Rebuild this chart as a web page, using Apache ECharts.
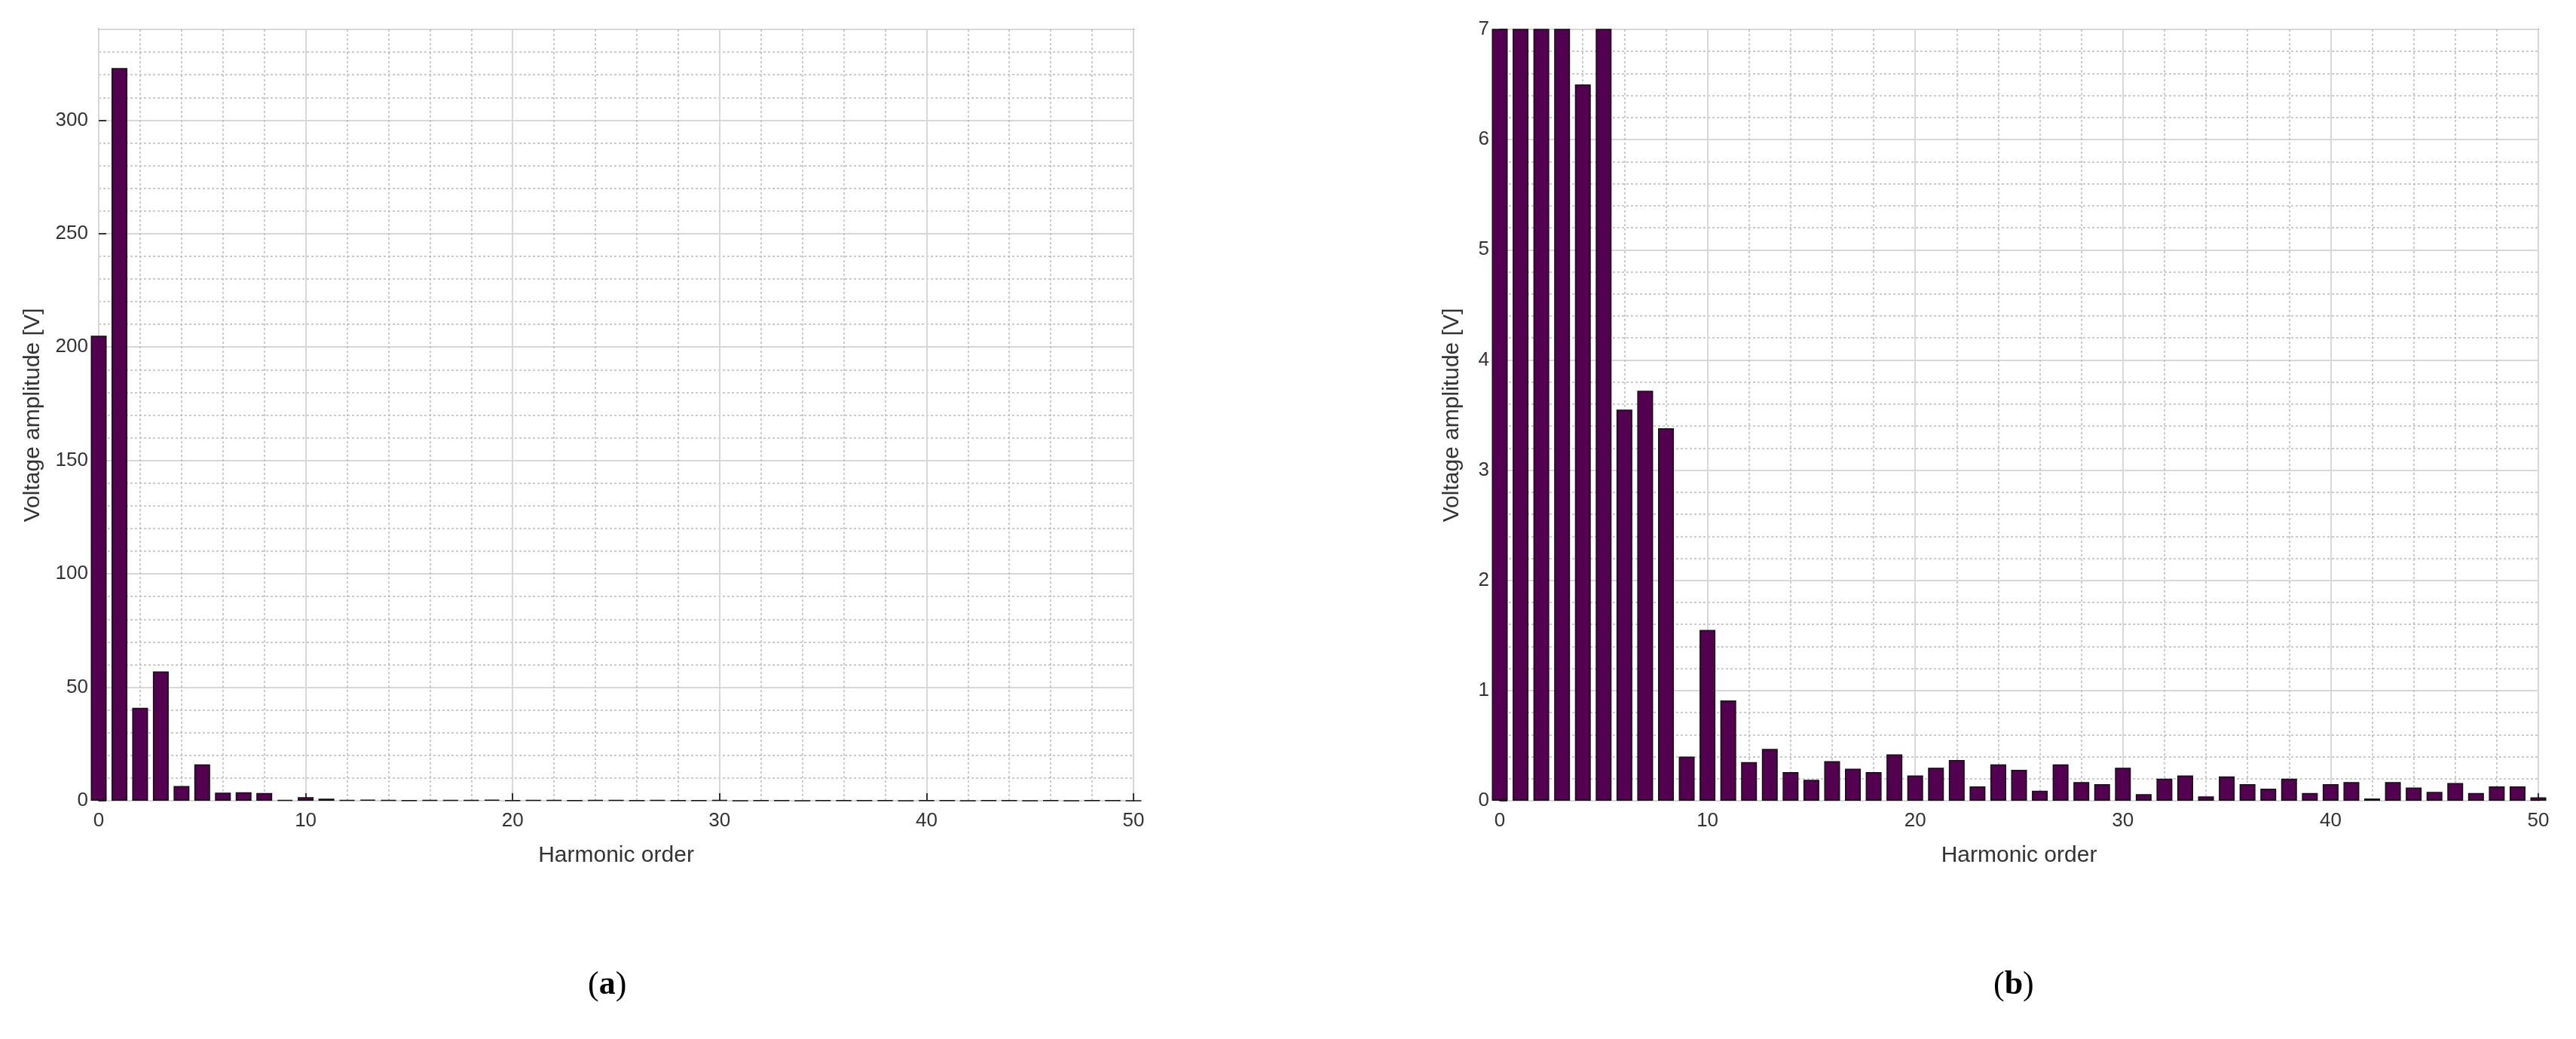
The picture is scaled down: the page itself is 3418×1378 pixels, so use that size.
<!DOCTYPE html>
<html><head><meta charset="utf-8">
<script src="https://cdn.jsdelivr.net/npm/echarts@6/dist/echarts.min.js"></script>
<style>html,body{margin:0;padding:0;background:#fff}#c{width:3418px;height:1378px}</style>
</head><body><div id="c"></div>
<script>
const harmonics = Array.from({length:51},(_,i)=>i);
const amplitude = [205,323,41,57,6.5,16,3.55,3.72,3.38,0.4,1.55,0.91,0.35,0.47,0.26,0.19,0.36,0.29,0.26,0.42,0.23,0.3,0.37,0.13,0.33,0.28,0.09,0.33,0.17,0.15,0.3,0.06,0.2,0.23,0.04,0.22,0.15,0.11,0.2,0.07,0.15,0.17,0.02,0.17,0.12,0.08,0.16,0.07,0.13,0.13,0.03];
const xTicks = [0,10,20,30,40,50];
const labels = ['a','b'];
const chart = echarts.init(document.getElementById('c'));
const font = 'Liberation Sans';
function xAxis(i){return {type:'value',gridIndex:i,min:0,max:50,interval:10,
  name:'Harmonic order',nameLocation:'middle',nameGap:58,nameTextStyle:{fontSize:30,color:'#333',fontFamily:font},
  axisLine:{show:false},axisTick:{inside:true,length:10,lineStyle:{color:'#333',width:2}},
  axisLabel:{fontSize:26,color:'#333',fontFamily:font,margin:14},
  splitLine:{show:true,lineStyle:{color:'#d8d8d8',width:2}},
  minorTick:{show:false,splitNumber:5},minorSplitLine:{show:true,lineStyle:{color:'#bbb',type:[3,3],width:1.5}}};}
function yAxis(i,max,interval,gap){return {type:'value',gridIndex:i,min:0,max:max,interval:interval,
  name:'Voltage amplitude [V]',nameLocation:'middle',nameGap:gap,nameTextStyle:{fontSize:30,color:'#333',fontFamily:font},
  axisLine:{show:false},axisTick:{show:true,inside:true,length:10,lineStyle:{color:'#333',width:2}},
  axisLabel:{fontSize:26,color:'#333',fontFamily:font,margin:14,showMaxLabel:max%interval===0},
  splitLine:{show:true,lineStyle:{color:'#d8d8d8',width:2}},
  minorTick:{show:false,splitNumber:5},minorSplitLine:{show:true,lineStyle:{color:'#bbb',type:[3,3],width:1.5}}};}
const data = harmonics.map((h,i)=>[h,amplitude[i]]);
const barStyle = {color:'#52004f',borderColor:'#111',borderWidth:1.5};
function lab(t){return {text:'({b|'+t+'})',rich:{b:{font:'bold 44px "Liberation Serif"',fill:'#000'}},font:'44px "Liberation Serif"',fill:'#000'};}
chart.setOption({
  animation:false,
  grid:[{left:131,top:39,width:1373,height:1023,show:true,borderColor:'#777',borderWidth:2},
        {left:1990,top:39,width:1378,height:1023,show:true,borderColor:'#777',borderWidth:2}],
  xAxis:[xAxis(0),xAxis(1)],
  yAxis:[yAxis(0,340,50,72),yAxis(1,7,1,48)],
  series:[{type:'bar',xAxisIndex:0,yAxisIndex:0,data:data,barWidth:21,itemStyle:barStyle,clip:true},
          {type:'bar',xAxisIndex:1,yAxisIndex:1,data:data,barWidth:21,itemStyle:barStyle,clip:true}],
  graphic:[{type:'text',left:780,top:1285,style:lab(labels[0])},
           {type:'text',left:2645,top:1285,style:lab(labels[1])}]
});
</script></body></html>
